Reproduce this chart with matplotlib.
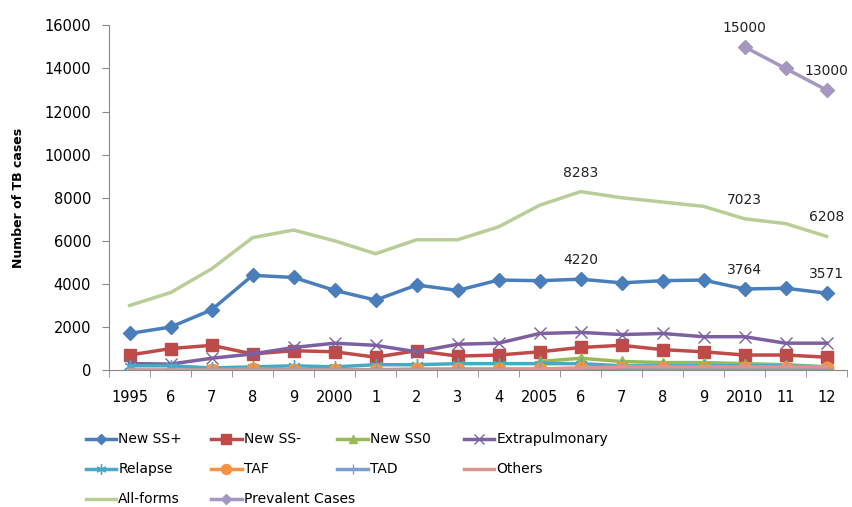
import numpy as np
import matplotlib
matplotlib.use("Agg")
import matplotlib.pyplot as plt

# ===== DATA =====
years = ["1995", "6", "7", "8", "9", "2000", "1", "2", "3", "4",
         "2005", "6", "7", "8", "9", "2010", "11", "12"]
nan = np.nan

new_ss_pos = [1700, 2000, 2800, 4400, 4300, 3700, 3250, 3950, 3700, 4180,
              4150, 4220, 4050, 4150, 4180, 3764, 3800, 3571]
new_ss_neg = [700, 1000, 1150, 750, 900, 850, 600, 900, 650, 700,
              850, 1050, 1150, 950, 850, 700, 700, 600]
new_ss0 = [nan, nan, nan, nan, nan, nan, nan, nan, nan, nan,
           400, 550, 400, 350, 350, 300, 250, 150]
extrapulmonary = [300, 280, 550, 750, 1050, 1250, 1150, 850, 1200, 1250,
                  1700, 1750, 1650, 1700, 1550, 1550, 1250, 1250]
relapse = [200, 200, 100, 150, 200, 150, 250, 250, 300, 300,
           300, 300, 200, 200, 200, 200, 200, 150]
taf = [nan, nan, 20, 50, 20, 20, 20, 50, 50, 50,
       50, 80, 100, 100, 100, 100, 100, 80]
tad = [0, 0, 20, 20, 20, 20, 20, 20, 30, 30,
       30, 40, 40, 40, 40, 50, 50, 50]
others = [0, 0, 0, 0, 0, 0, 0, 0, 0, 0,
          50, 100, 150, 150, 150, 150, 150, 150]
all_forms = [3000, 3600, 4700, 6150, 6500, 6000, 5400, 6050, 6050, 6650,
             7650, 8283, 8000, 7800, 7600, 7023, 6800, 6208]
prevalent = [nan] * 15 + [15000, 14000, 13000]

# indices of labelled points
labels_all = [11, 15, 17]
labels_ss = [11, 15, 17]
labels_prev = [15, 17]

# ===== PLOT =====
plt.rcParams["font.family"] = "DejaVu Sans"
fig = plt.figure(figsize=(8.53, 5.07), dpi=100)
ax = fig.add_axes([0.128, 0.27, 0.865, 0.68])

x = np.arange(len(years))

series = [
    ("New SS+", new_ss_pos, "#4A7EBB", "D", 7),
    ("New SS-", new_ss_neg, "#BE4B48", "s", 9),
    ("New SS0", new_ss0, "#98B954", "^", 7),
    ("Extrapulmonary", extrapulmonary, "#7D60A0", "x", 9),
    ("Relapse", relapse, "#46AAC5", (6, 2, 0), 9),
    ("TAF", taf, "#F69240", "o", 9),
    ("TAD", tad, "#7C9ECF", "+", 9),
    ("Others", others, "#D99694", None, 0),
    ("All-forms", all_forms, "#B9CD96", None, 0),
    ("Prevalent Cases", prevalent, "#A598C0", "D", 7),
]

handles = {}
for name, vals, color, marker, ms in series:
    h, = ax.plot(x, vals, color=color, linewidth=2.5, marker=marker,
                 markersize=ms, markeredgewidth=1, label=name)
    handles[name] = h

txt = dict(fontsize=10, color="#222222", ha="center")
for i in labels_all:
    ax.text(x[i], all_forms[i] + 700, str(all_forms[i]), **txt)
for i in labels_ss:
    ax.text(x[i], new_ss_pos[i] + 700, str(new_ss_pos[i]), **txt)
for i in labels_prev:
    ax.text(x[i], prevalent[i] + 700, str(prevalent[i]), **txt)

ax.set_xlim(-0.5, len(years) - 0.5)
ax.set_ylim(0, 16000)
ax.set_yticks(np.arange(0, 16001, 2000))
ax.set_xticks(x)
ax.set_xticklabels(years)
ax.set_xticks(np.arange(-0.5, len(years), 1), minor=True)
ax.tick_params(axis="x", which="major", length=0, pad=14, labelsize=10.5)
ax.tick_params(axis="x", which="minor", length=5, color="#888888")
ax.tick_params(axis="y", length=5, color="#888888", labelsize=10.5, pad=8)

for s in ("top", "right"):
    ax.spines[s].set_visible(False)
for s in ("left", "bottom"):
    ax.spines[s].set_color("#888888")

ax.set_ylabel("Number of TB cases", fontsize=9, fontweight="bold", labelpad=14)

# legend: 4 fixed-width columns, filled row by row
legend_rows = [["New SS+", "New SS-", "New SS0", "Extrapulmonary"],
               ["Relapse", "TAF", "TAD", "Others"],
               ["All-forms", "Prevalent Cases"]]
col_x = [0.094, 0.241, 0.389, 0.537]
for c, cx in enumerate(col_x):
    names = [row[c] for row in legend_rows if c < len(row)]
    fig.legend(handles=[handles[n] for n in names], loc="upper left",
               bbox_to_anchor=(cx, 0.158), frameon=False,
               fontsize=10, handlelength=2.2, handletextpad=0.15,
               labelspacing=1.15, borderaxespad=0, markerscale=0.8)

fig.savefig("out.png", dpi=100)
